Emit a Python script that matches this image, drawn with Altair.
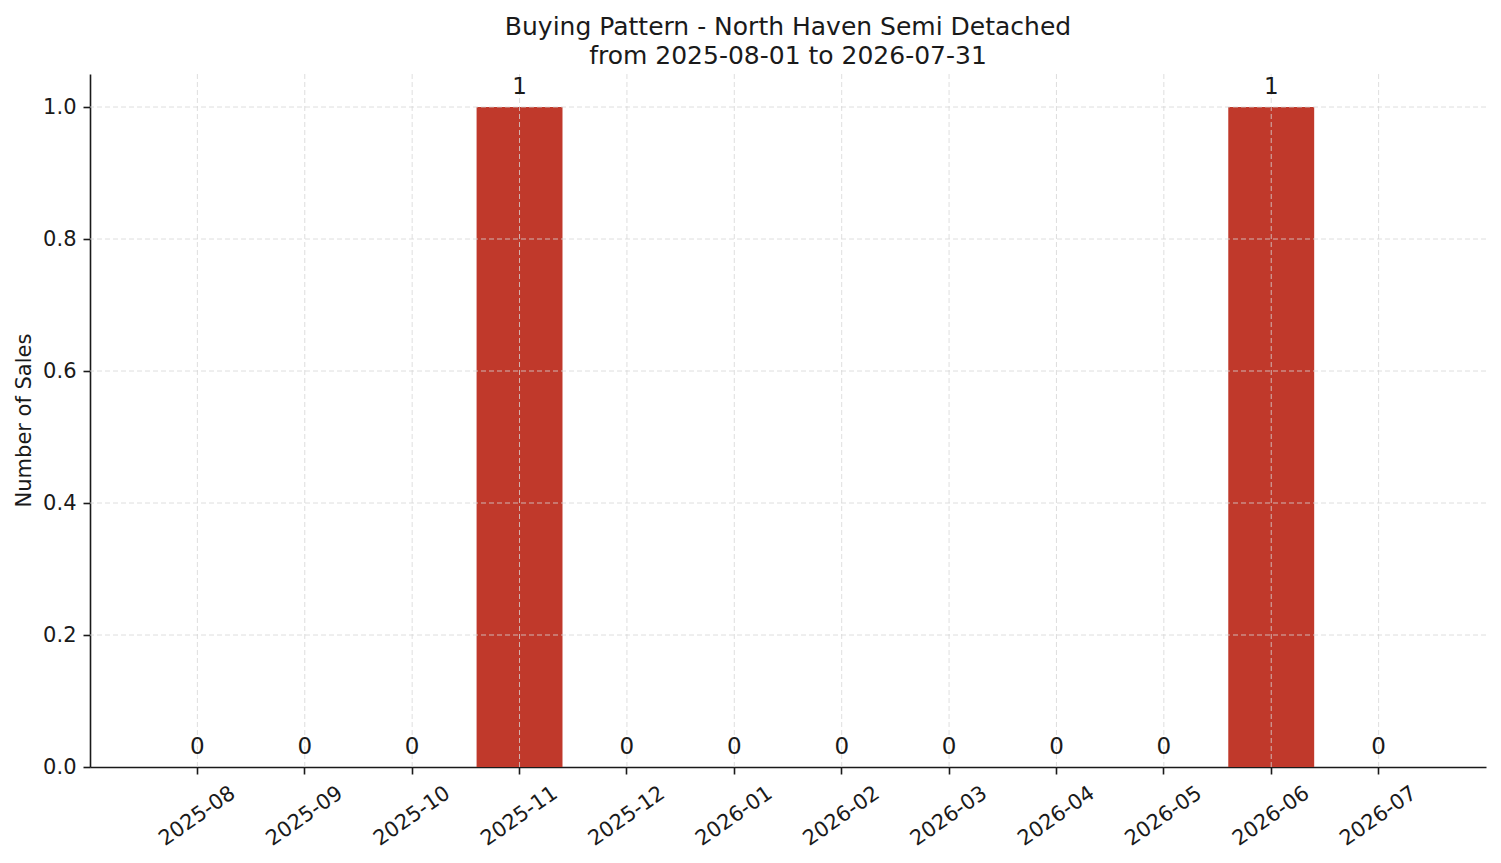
import pandas as pd
import altair as alt

# Monthly sales counts
months = ["2025-08", "2025-09", "2025-10", "2025-11", "2025-12", "2026-01",
          "2026-02", "2026-03", "2026-04", "2026-05", "2026-06", "2026-07"]
sales = [0, 0, 0, 1, 0, 0, 0, 0, 0, 0, 1, 0]
y_ticks = [0.0, 0.2, 0.4, 0.6, 0.8, 1.0]

title_lines = ["Buying Pattern - North Haven Semi Detached",
               "from 2025-08-01 to 2026-07-31"]

df = pd.DataFrame({"month": months, "sales": sales})
ticks_df = pd.DataFrame({"sales": y_ticks})

FONT = "DejaVu Sans"
INK = "#1a1a1a"
GRID = dict(color="#d6d6d6", strokeDash=[5, 3], strokeWidth=0.8)

x_axis = alt.Axis(
    title=None,
    labelAngle=-35,
    labelAlign="center",
    labelBaseline="middle",
    labelPadding=42,
    labelFontSize=21,
    grid=False,
)
y_axis = alt.Axis(
    title="Number of Sales",
    values=y_ticks,
    format=".1f",
    labelFontSize=21,
    labelPadding=7,
    titleFontSize=21,
    titleFontWeight="normal",
    titleAngle=-90,
    titleAlign="center",
    titleBaseline="alphabetic",
    titleX=-60,
    titleY=346,
    grid=False,
)

x_enc = alt.X("month:N", sort=months, axis=x_axis,
              scale=alt.Scale(paddingInner=0.2, paddingOuter=0.6))
y_enc = alt.Y("sales:Q", axis=y_axis,
              scale=alt.Scale(domain=[0, 1.05], nice=False, zero=True))

bars = alt.Chart(df).mark_bar(color="#c0392b").encode(x=x_enc, y=y_enc)

# dashed grid drawn over the bars, as in the reference (none on the baseline)
vgrid = alt.Chart(df).mark_rule(**GRID).encode(x=x_enc)
hgrid = alt.Chart(ticks_df).mark_rule(**GRID).encode(y=y_enc).transform_filter(
    "datum.sales > 0"
)

# count labels above each bar
labels = alt.Chart(df).mark_text(
    font=FONT, fontSize=23, color=INK, baseline="alphabetic", dy=-13
).encode(
    x=x_enc,
    y=y_enc,
    text=alt.Text("sales:Q", format="d"),
)

chart = alt.layer(bars, vgrid, hgrid, labels).properties(
    width=1396,
    height=693,
    autosize="none",
    background="white",
    padding={"left": 82, "top": 66, "right": 7, "bottom": 88},
    title=alt.TitleParams(
        text=title_lines,
        font=FONT,
        fontSize=25,
        fontWeight="normal",
        color=INK,
        anchor="middle",
        lineHeight=29,
        offset=5,
    ),
).configure_view(
    stroke=None
).configure_axis(
    labelFont=FONT,
    titleFont=FONT,
    labelColor=INK,
    titleColor=INK,
    domainColor=INK,
    tickColor=INK,
    tickSize=7,
    tickWidth=1.6,
    domainWidth=1.6,
)

chart.save("out.html", embed_options={"renderer": "svg", "actions": False})
